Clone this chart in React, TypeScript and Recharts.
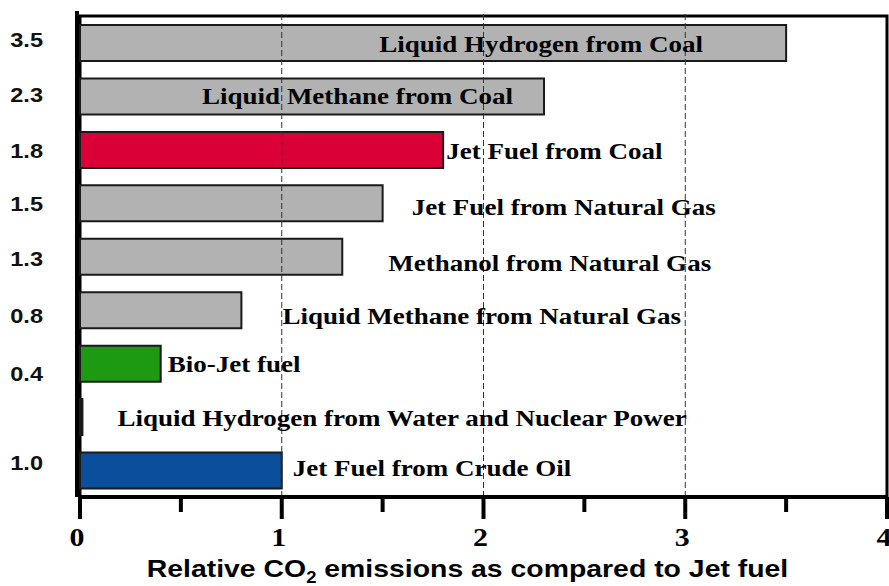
import {
  BarChart,
  Bar,
  XAxis,
  YAxis,
  ReferenceArea,
  ReferenceLine,
  LabelList,
  Cell,
} from 'recharts';

// fuel pathways, top to bottom
const categories = [
  'Liquid Hydrogen from Coal',
  'Liquid Methane from Coal',
  'Jet Fuel from Coal',
  'Jet Fuel from Natural Gas',
  'Methanol from Natural Gas',
  'Liquid Methane from Natural Gas',
  'Bio-Jet fuel',
  'Liquid Hydrogen from Water and Nuclear Power',
  'Jet Fuel from Crude Oil',
];
const emissions = [3.5, 2.3, 1.8, 1.5, 1.3, 0.8, 0.4, 0.012, 1.0];
const valueLabels = ['3.5', '2.3', '1.8', '1.5', '1.3', '0.8', '0.4', '', '1.0'];
const xTicks = [0, 0.5, 1, 1.5, 2, 2.5, 3, 3.5, 4];
const gridAt = [1, 2, 3];

const GRAY = '#b2b2b2';
const barColors = [GRAY, GRAY, '#da0037', GRAY, GRAY, GRAY, '#1e9a12', '#111111', '#0a4e9c'];

// label nudges (px) so text sits where the original put it
const labelDx = [-407, -342, 3, 29, 46, 41, 7, 35, 11];
const labelDy = [1, 0, 1, 4, 6, 6, 1, 1, -2];
const valueDy = [-2.5, -1.5, 1.5, 1, 2, 5.5, 10.5, 0, -7];

const STRETCH = 1.15;
const SERIF = '"Liberation Serif", "Times New Roman", serif';
const SANS = '"Liberation Sans", Arial, sans-serif';

const chartData = categories.map((name, i) => ({ name, value: emissions[i] }));

function ValueTick(props: any) {
  const { y, index } = props;
  const text = valueLabels[index];
  if (!text) return null;
  const base = y + valueDy[index] + 7.2;
  return (
    <text
      transform={`translate(43, ${base}) scale(${STRETCH}, 1)`}
      textAnchor="end"
      fontFamily={SANS}
      fontWeight="bold"
      fontSize={20.5}
      fill="#111"
    >
      {text}
    </text>
  );
}

function XTick(props: any) {
  const { x, y, payload } = props;
  const v = payload.value;
  const major = Number.isInteger(v);
  return (
    <g>
      <line x1={x} x2={x} y1={y} y2={y + (major ? 22 : 15)} stroke="#000" strokeWidth={4} />
      {major && (
        <text
          transform={`translate(${x - 3}, ${y + 49}) scale(${STRETCH}, 1)`}
          textAnchor="middle"
          fontFamily={SERIF}
          fontWeight="bold"
          fontSize={26}
          fill="#000"
        >
          {v}
        </text>
      )}
    </g>
  );
}

function BarText(props: any) {
  const { x, y, width, height, value } = props;
  const i = categories.indexOf(value);
  const startX = x + width + labelDx[i];
  const base = y + height / 2 + labelDy[i] + 7.8;
  return (
    <text
      transform={`translate(${startX}, ${base}) scale(${STRETCH}, 1)`}
      fontFamily={SERIF}
      fontWeight="bold"
      fontSize={23.5}
      fill="#000"
    >
      {value}
    </text>
  );
}

function AxisTitle(props: any) {
  const { viewBox } = props;
  const cx = viewBox.x + viewBox.width / 2 - 16;
  const base = viewBox.y + 80;
  return (
    <text
      transform={`translate(${cx}, ${base}) scale(${STRETCH}, 1)`}
      textAnchor="middle"
      fontFamily={SANS}
      fontWeight="bold"
      fontSize={24.7}
      fill="#000"
    >
      Relative CO
      <tspan fontSize={16} dy={6}>2</tspan>
      <tspan dy={-6}> emissions as compared to Jet fuel</tspan>
    </text>
  );
}

export default function App() {
  return (
    <div style={{ position: 'absolute', left: 0, top: 0, background: '#fff' }}>
      <BarChart
        width={889}
        height={586}
        data={chartData}
        layout="vertical"
        margin={{ top: 11, right: 2, bottom: 0, left: 0 }}
        barSize={36}
      >
        <XAxis
          type="number"
          domain={[0, 4]}
          ticks={xTicks}
          interval={0}
          height={89}
          tickSize={0}
          tickMargin={0}
          tickLine={false}
          tick={<XTick />}
          axisLine={{ stroke: '#000', strokeWidth: 4 }}
          label={<AxisTitle />}
        />
        <YAxis
          type="category"
          dataKey="name"
          width={80}
          padding={{ top: 5, bottom: 0 }}
          interval={0}
          tickLine={false}
          tick={<ValueTick />}
          axisLine={{ stroke: '#000', strokeWidth: 4, transform: 'translate(-3, 0)' }}
        />
        {/* plot frame (top and right edges) */}
        <ReferenceArea x1={0} x2={4} fill="none" stroke="#000" strokeWidth={3} ifOverflow="visible" />
        <Bar dataKey="value" stroke="#1a1a1a" strokeWidth={2} isAnimationActive={false}>
          {chartData.map((entry, index) => (
            <Cell key={`cell-${index}`} fill={barColors[index]} />
          ))}
          <LabelList dataKey="name" content={<BarText />} />
        </Bar>
        {gridAt.map((g) => (
          <ReferenceLine key={g} x={g} stroke="#333" strokeWidth={1} strokeDasharray="6 3" />
        ))}
      </BarChart>
    </div>
  );
}
